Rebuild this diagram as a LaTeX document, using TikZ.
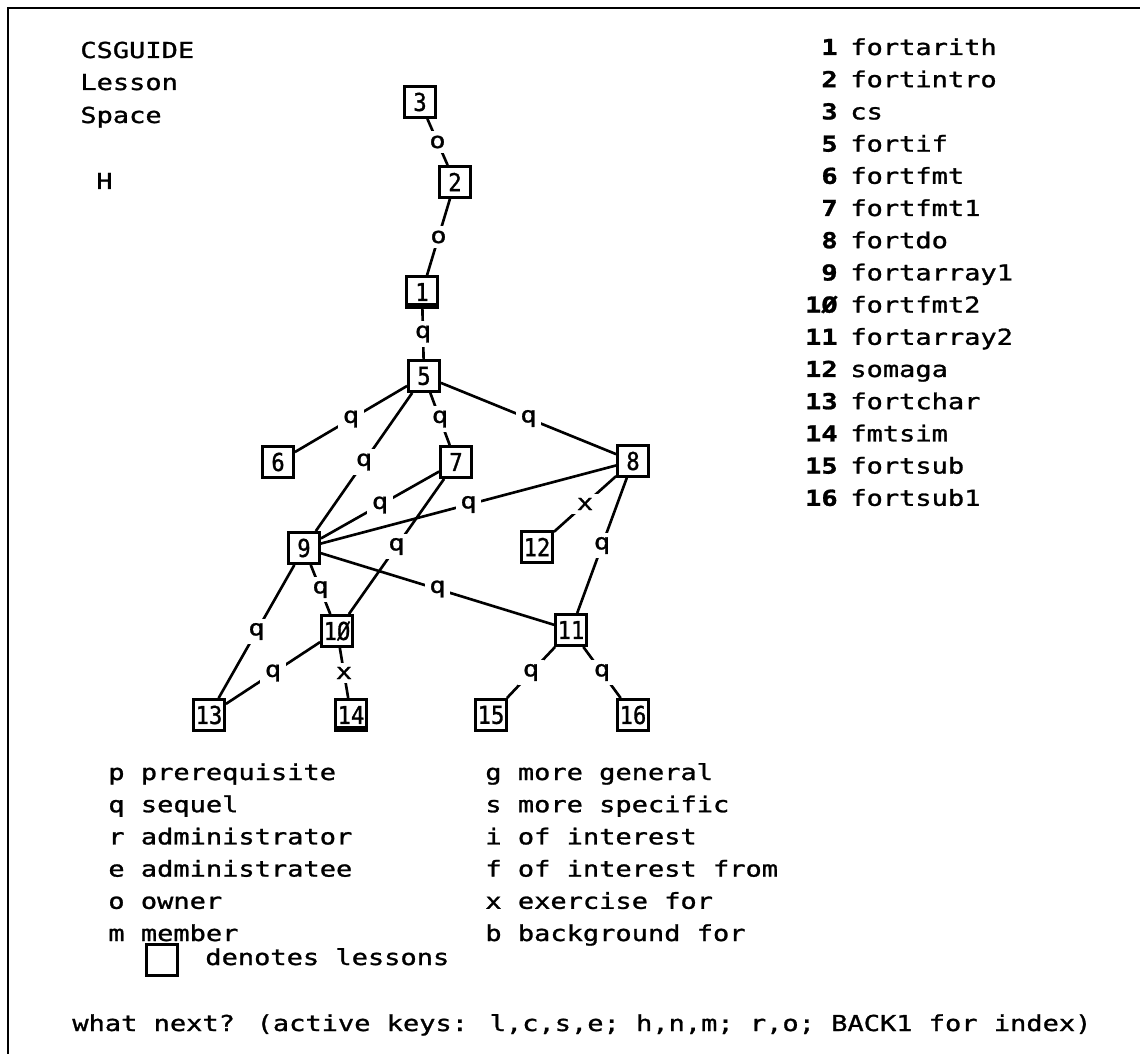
\documentclass[tikz,border=0pt]{standalone}
\usepackage{fontspec}
\newfontfamily\termfont[FakeStretch=1.23,FakeBold=1.2]{DejaVu Sans Mono}
\newfontfamily\numfont[FakeStretch=0.9,FakeBold=1.2]{DejaVu Sans Mono}
\newcommand{\term}{\termfont\fontsize{12.5}{15}\selectfont}
\newcommand{\boxnum}{\numfont\fontsize{14}{16}\selectfont}

\begin{document}
\begin{tikzpicture}[x=0.02cm,y=-0.02cm,
    lesson/.style={draw,line width=1.6pt,minimum size=0.62cm,inner sep=0pt,font=\boxnum},
    seen/.style={lesson,path picture={\fill (path picture bounding box.south west) rectangle ([yshift=0.09cm]path picture bounding box.south east);}},
    link/.style={line width=1.5pt},
    rel/.style={fill=white,inner sep=2.5pt,font=\term},
    txt/.style={anchor=base west,inner sep=0pt,font=\term}]
  \useasboundingbox (0,0) rectangle (1140,1054);
  % screen edge
  \draw[line width=1.5pt] (8,1054) -- (8,8) -- (1140,8);

  % title block
  \node[txt] (title1) at (80,58) {CSGUIDE};
  \node[txt] (title2) at (80,90) {Lesson};
  \node[txt] (title3) at (80,123) {Space};
  \node[txt] (mode) at (96,189) {H};

  % lesson boxes
  \node[lesson] (n3) at (420,102) {3};
  \node[lesson] (n2) at (455,182) {2};
  \node[seen]   (n1) at (422,292) {1};
  \node[lesson] (n5) at (424,376) {5};
  \node[lesson] (n6) at (278,462) {6};
  \node[lesson] (n7) at (456,462) {7};
  \node[lesson] (n8) at (633,461) {8};
  \node[lesson] (n9) at (304,548) {9};
  \node[lesson] (n12) at (537,547) {12};
  \node[lesson] (n10) at (337,631) {1Ø};
  \node[lesson] (n11) at (571,630) {11};
  \node[lesson] (n13) at (209,715) {13};
  \node[seen]   (n14) at (351,715) {14};
  \node[lesson] (n15) at (491,715) {15};
  \node[lesson] (n16) at (633,715) {16};

  % relations
  \foreach \a/\b/\r in {3/2/o,2/1/o,1/5/q,5/6/q,5/9/q,5/7/q,5/8/q,7/9/q,8/9/q,8/12/x,
      7/10/q,9/10/q,9/11/q,8/11/q,9/13/q,10/13/q,10/14/x,11/15/q,11/16/q}
    \draw[link] (n\a) -- node[rel] {\r} (n\b);

  % lesson index
  \foreach \k/\nm [count=\i from 0] in {1/fortarith,2/fortintro,3/cs,5/fortif,6/fortfmt,
      7/fortfmt1,8/fortdo,9/fortarray1,1Ø/fortfmt2,11/fortarray2,12/somaga,13/fortchar,
      14/fmtsim,15/fortsub,16/fortsub1}{
    \node[txt,anchor=base east,font=\term\bfseries] (key\i) at (838,55+32.2*\i) {\k};
    \node[txt] (name\i) at (850,55+32.2*\i) {\nm};
  }

  % link legend
  \foreach \c/\d [count=\i from 0] in {p/prerequisite,q/sequel,r/administrator,
      e/administratee,o/owner,m/member}
    \node[txt] (lega\i) at (108,780+32.2*\i) {\c\ \d};
  \foreach \c/\d [count=\i from 0] in {g/more general,s/more specific,i/of interest,
      f/of interest from,x/exercise for,b/background for}
    \node[txt] (legb\i) at (485,780+32.2*\i) {\c\ \d};
  \node[draw,line width=1.2pt,minimum size=0.62cm] (keybox) at (162,960) {};
  \node[txt] (keytxt) at (205,965) {denotes lessons};

  % prompt line
  \node[txt] (prompt) at (72,1031) {what next? (active keys: l,c,s,e; h,n,m; r,o; BACK1 for index)};
\end{tikzpicture}
\end{document}
